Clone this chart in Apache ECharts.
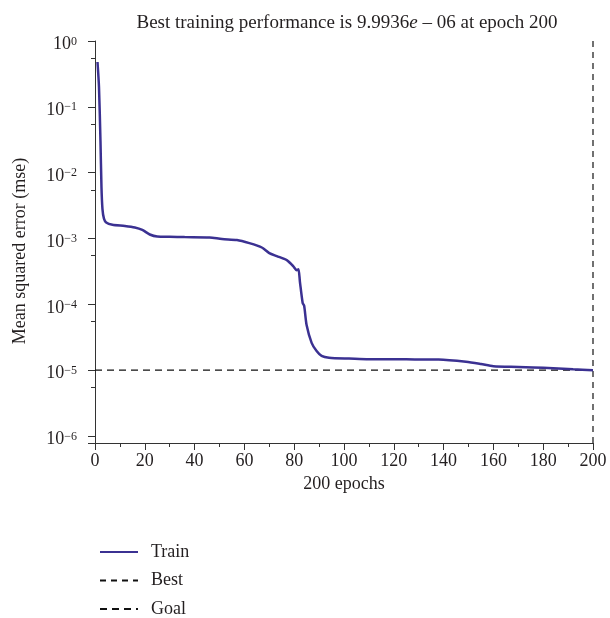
<!DOCTYPE html>
<html>
<head>
<meta charset="utf-8">
<script src="https://cdn.jsdelivr.net/npm/echarts@6/dist/echarts.min.js"></script>
<style>
  html, body { margin: 0; padding: 0; background: #fff; }
  #chart { width: 610px; height: 618px; }
</style>
</head>
<body>
<div id="chart"></div>
<script>
// training curve (epoch, mse)
var epochs = [1, 1.6, 2.2, 2.6, 3, 3.6, 4.5, 7, 12, 16, 19, 22, 25, 30, 36, 46, 51, 57, 62, 67, 70, 73, 77, 79.6, 81, 81.7, 82.3, 83.4, 84, 85, 87, 89, 91, 94, 102, 109, 125, 138, 149, 155, 160, 170, 176, 184, 192, 200];
var mse = [0.48, 0.2, 0.03, 0.006, 2.8e-3, 2.0e-3, 1.75e-3, 1.62e-3, 1.55e-3, 1.47e-3, 1.35e-3, 1.15e-3, 1.07e-3, 1.06e-3, 1.05e-3, 1.04e-3, 9.8e-4, 9.5e-4, 8.5e-4, 7.3e-4, 6.0e-4, 5.4e-4, 4.7e-4, 3.8e-4, 3.3e-4, 3.4e-4, 2.2e-4, 1.05e-4, 9.5e-5, 4.8e-5, 2.6e-5, 1.95e-5, 1.65e-5, 1.55e-5, 1.5e-5, 1.47e-5, 1.46e-5, 1.45e-5, 1.34e-5, 1.24e-5, 1.15e-5, 1.12e-5, 1.1e-5, 1.07e-5, 1.03e-5, 9.9936e-6];
var bestEpoch = 200;
var goal = 1e-5;
var yMin = 7.83e-7;
var yMax = 1;
var xMax = 200;

var font = "'Liberation Serif', 'DejaVu Serif', serif";
var ink = '#231f20';

var trainData = epochs.map(function (e, i) { return [e, mse[i]]; });

var chart = echarts.init(document.getElementById('chart'));
chart.setOption({
  animation: false,
  title: {
    text: '{n|Best training performance is 9.9936}{i|e}{n| \u2013 06 at epoch 200}',
    left: 342,
    top: 6,
    textAlign: 'center',
    textStyle: {
      fontFamily: font,
      fontSize: 19,
      fontWeight: 'normal',
      color: ink,
      lineHeight: 24,
      rich: {
        n: { fontFamily: font, fontSize: 19, color: ink, lineHeight: 24, verticalAlign: 'middle' },
        i: { fontFamily: font, fontSize: 19, fontStyle: 'italic', color: ink, lineHeight: 24, verticalAlign: 'middle' }
      }
    }
  },
  grid: { left: 95, right: 17, top: 41, bottom: 175 },
  legend: {
    orient: 'vertical',
    left: 94,
    top: 538,
    height: 90,
    itemWidth: 38,
    itemHeight: 14,
    itemGap: 10.5,
    itemStyle: { opacity: 0 },
    textStyle: { fontFamily: font, fontSize: 18, lineHeight: 18, color: ink, padding: [0, 0, 0, 8] },
    data: ['Train', 'Best', 'Goal']
  },
  xAxis: {
    type: 'value',
    min: 0,
    max: xMax,
    interval: 20,
    name: '200 epochs',
    nameLocation: 'middle',
    nameGap: 28,
    nameTextStyle: { fontFamily: font, fontSize: 18, color: ink },
    axisLine: { lineStyle: { color: '#333', width: 1 } },
    axisTick: { inside: false, length: 7, lineStyle: { color: '#333' } },
    minorTick: { show: true, splitNumber: 2, length: 4, lineStyle: { color: '#333' } },
    splitLine: { show: false },
    axisLabel: { fontFamily: font, fontSize: 18, color: ink, margin: 9 }
  },
  yAxis: {
    type: 'log',
    min: yMin,
    max: yMax,
    name: 'Mean squared error (mse)',
    nameLocation: 'middle',
    nameGap: 66,
    nameTextStyle: { fontFamily: font, fontSize: 18, color: ink, padding: [0, 18, 0, 0] },
    axisLine: { lineStyle: { color: '#333', width: 1 } },
    axisTick: { length: 7, lineStyle: { color: '#333' } },
    minorTick: { show: true, splitNumber: 2, length: 4, lineStyle: { color: '#333' } },
    splitLine: { show: false },
    axisLabel: {
      margin: 18,
      padding: [7, 0, 0, 0],
      formatter: function (v) {
        var l = Math.log10(v);
        var e = Math.round(l);
        if (Math.abs(l - e) > 0.01) return '';
        var s = e === 0 ? '0' : '\u2212' + (-e);
        return '{b|10}{s|' + s + '}';
      },
      rich: {
        b: { fontFamily: font, fontSize: 18, color: ink, lineHeight: 18, verticalAlign: 'bottom' },
        s: { fontFamily: font, fontSize: 12, color: ink, lineHeight: 12, verticalAlign: 'top' }
      }
    }
  },
  series: [
    {
      name: 'Train',
      type: 'line',
      data: trainData,
      symbol: 'none',
      smooth: 0.25,
      lineStyle: { color: '#3b3192', width: 2.5 },
      itemStyle: { color: '#3b3192' },
      z: 3
    },
    {
      name: 'Best',
      type: 'line',
      data: [[bestEpoch, yMin], [bestEpoch, yMax]],
      symbol: 'none',
      lineStyle: { color: '#111', width: 1.2, type: [6, 5] },
      itemStyle: { color: '#111' },
      z: 2
    },
    {
      name: 'Goal',
      type: 'line',
      data: [[0, goal], [xMax, goal]],
      symbol: 'none',
      lineStyle: { color: '#111', width: 1.2, type: [7, 5] },
      itemStyle: { color: '#111' },
      z: 2
    }
  ]
});
</script>
</body>
</html>
